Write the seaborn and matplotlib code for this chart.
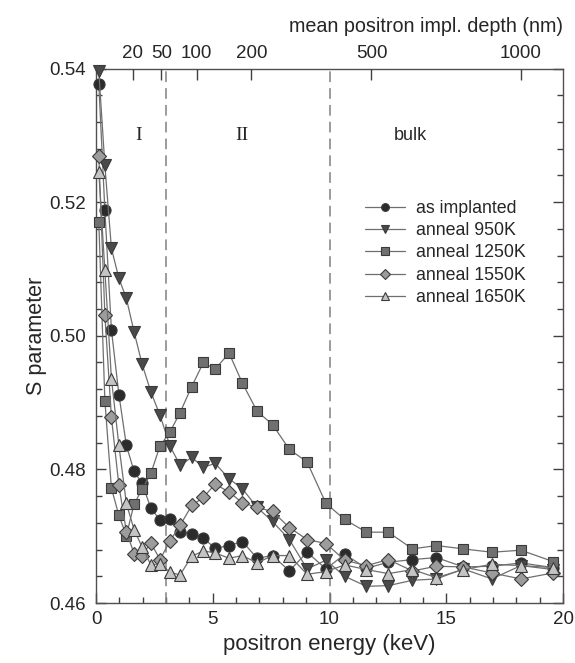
import numpy as np
import pandas as pd
import matplotlib
matplotlib.use("Agg")
import matplotlib.pyplot as plt
from matplotlib.ticker import MultipleLocator, FormatStrFormatter, NullLocator
import seaborn as sns

# Positron beam energies (keV)
energy = [0.12, 0.38, 0.66, 0.98, 1.30, 1.63, 1.97, 2.35, 2.74, 3.17,
          3.60, 4.10, 4.60, 5.10, 5.70, 6.27, 6.90, 7.56, 8.28, 9.04,
          9.85, 10.65, 11.58, 12.52, 13.55, 14.58, 15.73, 16.95, 18.20, 19.58]

# S parameter for each sample state
s_as_implanted = [0.5377, 0.5188, 0.5009, 0.4912, 0.4836, 0.4797, 0.4779, 0.4742, 0.4724, 0.4726,
                  0.4706, 0.4704, 0.4697, 0.4682, 0.4686, 0.4692, 0.4667, 0.4671, 0.4648, 0.4676,
                  0.4651, 0.4673, 0.4652, 0.4661, 0.4665, 0.4668, 0.4654, 0.4655, 0.4660, 0.4653]
s_950K = [0.5396, 0.5255, 0.5131, 0.5086, 0.5056, 0.5006, 0.4958, 0.4916, 0.4881, 0.4835,
          0.4806, 0.4818, 0.4803, 0.4809, 0.4786, 0.4771, 0.4743, 0.4722, 0.4695, 0.4651,
          0.4664, 0.4640, 0.4625, 0.4626, 0.4634, 0.4636, 0.4651, 0.4636, 0.4656, 0.4650]
s_1250K = [0.5170, 0.4903, 0.4772, 0.4731, 0.4701, 0.4748, 0.4770, 0.4794, 0.4835, 0.4856,
           0.4885, 0.4924, 0.4960, 0.4950, 0.4974, 0.4929, 0.4887, 0.4867, 0.4830, 0.4811,
           0.4749, 0.4725, 0.4706, 0.4706, 0.4681, 0.4686, 0.4681, 0.4676, 0.4679, 0.4662]
s_1550K = [0.5269, 0.5031, 0.4878, 0.4776, 0.4707, 0.4674, 0.4671, 0.4690, 0.4665, 0.4693,
           0.4716, 0.4746, 0.4758, 0.4778, 0.4766, 0.4750, 0.4743, 0.4737, 0.4713, 0.4695,
           0.4689, 0.4664, 0.4656, 0.4665, 0.4648, 0.4655, 0.4654, 0.4645, 0.4636, 0.4645]
s_1650K = [0.5245, 0.5098, 0.4936, 0.4836, 0.4749, 0.4710, 0.4684, 0.4657, 0.4659, 0.4646,
           0.4642, 0.4670, 0.4678, 0.4675, 0.4667, 0.4671, 0.4660, 0.4671, 0.4671, 0.4643,
           0.4647, 0.4657, 0.4650, 0.4644, 0.4650, 0.4638, 0.4650, 0.4658, 0.4656, 0.4653]

series_labels = ["as implanted", "anneal 950K", "anneal 1250K", "anneal 1550K", "anneal 1650K"]
series_values = [s_as_implanted, s_950K, s_1250K, s_1550K, s_1650K]
series_markers = ["o", "v", "s", "D", "^"]
series_faces = ["#2b2b2b", "#4a4a4a", "#707070", "#9c9c9c", "#c4c4c4"]
series_sizes = [8.0, 8.5, 7.3, 6.8, 8.0]

# Depth ticks on the upper axis (nm)
depth_ticks = [20, 50, 100, 200, 500, 1000]
# Mean implantation depth z = A * E^1.6
DEPTH_A = 9.64

rows = []
for lab, vals in zip(series_labels, series_values):
    for e, s in zip(energy, vals):
        rows.append({"energy": e, "S": s, "sample": lab})
df = pd.DataFrame(rows)

sns.set_theme(style="ticks")
plt.rcParams["font.family"] = ["Liberation Sans", "DejaVu Sans"]

fig = plt.figure(figsize=(5.75, 6.63), dpi=100)
ax = fig.add_axes([96 / 575, 60 / 663, 467 / 575, 534.5 / 663])

for lab, mk, fc, ms in zip(series_labels, series_markers, series_faces, series_sizes):
    sub = df[df["sample"] == lab]
    sns.lineplot(data=sub, x="energy", y="S", ax=ax, color="#6f6f6f", lw=0.9,
                 marker=mk, markersize=ms, markerfacecolor=fc,
                 markeredgecolor="#3a3a3a", markeredgewidth=0.8,
                 label=lab, clip_on=False, zorder=3)

# Region boundaries
for xv in (3, 10):
    ax.axvline(xv, color="#808080", lw=1.1, ls=(0, (7, 4)), zorder=1)

ax.text(1.84, 0.5300, "I", ha="center", va="center", fontsize=14,
        family=["Liberation Serif", "DejaVu Serif"])
ax.text(6.25, 0.5300, "II", ha="center", va="center", fontsize=14,
        family=["Liberation Serif", "DejaVu Serif"])
ax.text(13.45, 0.5300, "bulk", ha="center", va="center", fontsize=13)

ax.set_xlim(0, 20)
ax.set_ylim(0.46, 0.54)
ax.xaxis.set_major_locator(MultipleLocator(5))
ax.xaxis.set_minor_locator(MultipleLocator(1))
ax.yaxis.set_major_locator(MultipleLocator(0.02))
ax.yaxis.set_minor_locator(MultipleLocator(0.004))
ax.yaxis.set_major_formatter(FormatStrFormatter("%.2f"))
ax.tick_params(which="both", direction="in", top=False, right=True,
               labelsize=13.5, color="#404040")
ax.tick_params(which="major", length=7, width=1)
ax.tick_params(which="minor", length=4.5, width=1)
ax.tick_params(axis="x", which="major", pad=6)
ax.tick_params(axis="y", which="major", pad=7)
for sp in ax.spines.values():
    sp.set_color("#505050")
    sp.set_linewidth(1.0)

ax.set_xlabel("positron energy (keV)", fontsize=16, labelpad=4)
ax.set_ylabel("S parameter", fontsize=15.5, labelpad=2)


def z2e(z):
    return np.power(np.asarray(z, dtype=float) / DEPTH_A, 1 / 1.6)


# Upper axis: mean implantation depth at the corresponding energies
ax_top = ax.twiny()
ax_top.set_xlim(ax.get_xlim())
ax_top.set_xticks(z2e(depth_ticks))
ax_top.set_xticklabels([str(d) for d in depth_ticks])
ax_top.xaxis.set_minor_locator(NullLocator())
ax_top.tick_params(axis="x", which="major", direction="in", length=8, width=1,
                   labelsize=13.5, color="#404040", pad=5, bottom=False, top=True)
for sp in ax_top.spines.values():
    sp.set_visible(False)
ax_top.set_xlabel("mean positron impl. depth (nm)", fontsize=14.2, loc="right", labelpad=9)

leg = ax.legend(loc="center left", bbox_to_anchor=(0.576, 0.655), frameon=False,
                fontsize=12.8, handlelength=2.25, handletextpad=0.6, borderpad=0,
                borderaxespad=0, labelspacing=0.3, markerscale=0.7)

fig.savefig("out.png", dpi=100)
